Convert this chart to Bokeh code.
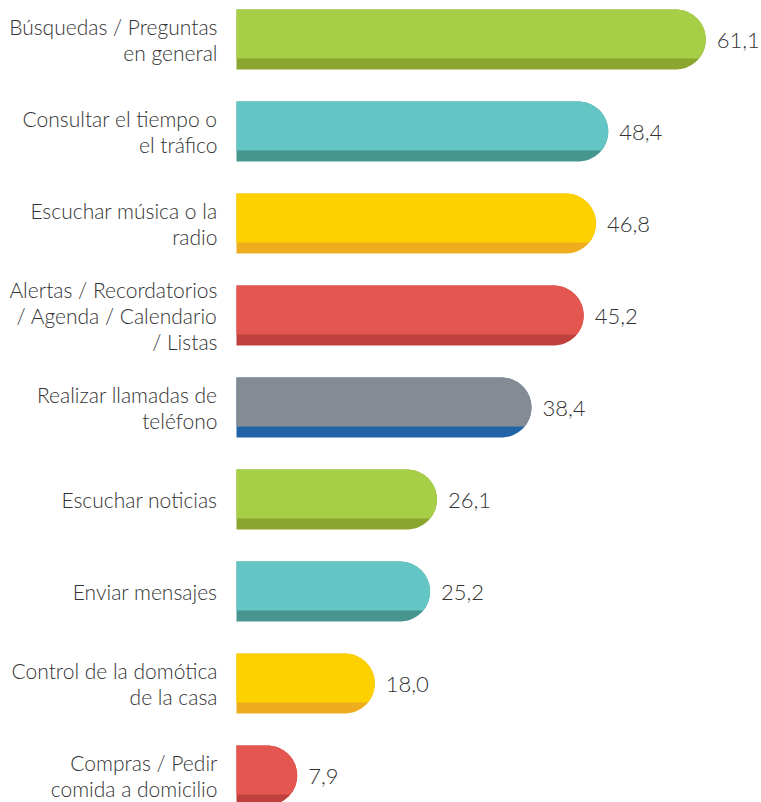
import numpy as np
from bokeh.plotting import figure
from bokeh.models import Range1d, ColumnDataSource
from bokeh.core.properties import value
from bokeh.embed import file_html
from bokeh.resources import INLINE

categories = [
    "Búsquedas / Preguntas\nen general",
    "Consultar el tiempo o\nel tráfico",
    "Escuchar música o la\nradio",
    "Alertas / Recordatorios\n/ Agenda / Calendario\n/ Listas",
    "Realizar llamadas de\nteléfono",
    "Escuchar noticias",
    "Enviar mensajes",
    "Control de la domótica\nde la casa",
    "Compras / Pedir\ncomida a domicilio",
]
values = [61.1, 48.4, 46.8, 45.2, 38.4, 26.1, 25.2, 18.0, 7.9]
value_labels = ["61,1", "48,4", "46,8", "45,2", "38,4", "26,1", "25,2", "18,0", "7,9"]
light_colors = ["#A6CE47", "#63C5C4", "#FDD000", "#E45650", "#858B93",
                "#A6CE47", "#63C5C4", "#FDD000", "#E45650"]
dark_colors = ["#8AA62F", "#46958F", "#EFAD1E", "#C0403E", "#2264A8",
               "#8AA62F", "#46958F", "#EFAD1E", "#C0403E"]

W, H = 761, 802
PX_PER_UNIT = 7.68
X0_PX = 236            # bar baseline, px from left of frame
PITCH = 92
BAR_H = 60
STRIPE = 11
FIRST_CENTER = 39      # px from top of frame
R = BAR_H / 2

x_start = -X0_PX / PX_PER_UNIT
x_end = (W - X0_PX) / PX_PER_UNIT

p = figure(width=W, height=H, output_backend="svg", toolbar_location=None,
           x_range=Range1d(x_start, x_end), y_range=Range1d(H, 0),
           min_border=0)
p.axis.visible = False
p.grid.visible = False
p.outline_line_color = None
p.background_fill_color = "white"
p.border_fill_color = "white"

rx = R / PX_PER_UNIT
centers = [FIRST_CENTER + PITCH * i for i in range(len(values))]

full_xs, full_ys, top_xs, top_ys = [], [], [], []
for v, c in zip(values, centers):
    top = c - R
    bot = c + R
    cx = v - rx
    th = np.linspace(np.pi / 2, -np.pi / 2, 60)
    arc_x = cx + rx * np.cos(th)
    arc_y = c - R * np.sin(th)
    xs = np.concatenate([[0.0], arc_x, [0.0]])
    ys = np.concatenate([[top], arc_y, [bot]])
    full_xs.append(list(xs))
    full_ys.append(list(ys))
    lim = bot - STRIPE
    top_xs.append(list(xs))
    top_ys.append(list(np.minimum(ys, lim)))

p.patches(full_xs, full_ys, fill_color=dark_colors, line_color=None)
p.patches(top_xs, top_ys, fill_color=light_colors, line_color=None)

src = ColumnDataSource(dict(y=centers, cat=categories, v=values, vl=value_labels,
                            zero=[0] * len(values)))
p.text(x="zero", y="y", text="cat", source=src, x_offset=-19,
       text_align="right", text_baseline="middle",
       text_font=value("Lato Light, Lato"), text_font_size="21px", text_color="#333333",
       text_line_height=1.03)
p.text(x="v", y="y", text="vl", source=src, x_offset=11, y_offset=1,
       text_align="left", text_baseline="middle",
       text_font=value("Lato Light, Lato"), text_font_size="22px", text_color="#333333")

open("out.html", "w").write(file_html(p, INLINE))
